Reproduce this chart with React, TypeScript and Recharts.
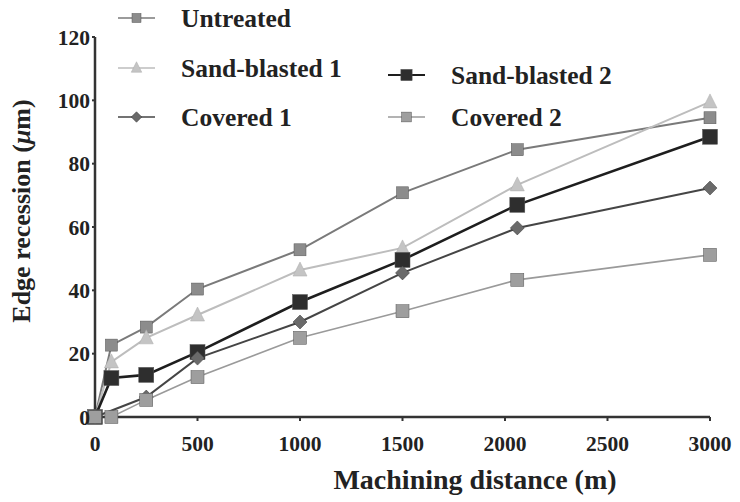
import React from "react";
import { LineChart, Line, XAxis, YAxis, Label } from "recharts";

const distances = [0, 80, 250, 500, 1000, 1500, 2060, 3000];
const untreated = [0, 22.7, 28.4, 40.4, 52.8, 70.8, 84.4, 94.5];
const sandBlasted1 = [0, 17.4, 25, 32.2, 46.4, 53.4, 73.3, 99.5];
const sandBlasted2 = [0, 12.3, 13.3, 20.5, 36.3, 49.6, 67, 88.5];
const covered1 = [0, null, 6.3, 18.6, 30, 45.5, 59.7, 72.3];
const covered2 = [0, 0, 5.4, 12.6, 25, 33.4, 43.3, 51.2];

const xTicks = [0, 500, 1000, 1500, 2000, 2500, 3000];
const yTicks = [0, 20, 40, 60, 80, 100, 120];

const data = distances.map((x, i) => ({
  x,
  untreated: untreated[i],
  sb1: sandBlasted1[i],
  sb2: sandBlasted2[i],
  c1: covered1[i],
  c2: covered2[i],
}));

const FONT = "'Liberation Serif', 'Times New Roman', serif";

const series = [
  { key: "untreated", name: "Untreated", stroke: "#7a7a7a", width: 2, fill: "#8c8c8c", shape: "square", size: 12 },
  { key: "sb1", name: "Sand-blasted 1", stroke: "#bdbdbd", width: 2, fill: "#c4c4c4", shape: "triangle", size: 14 },
  { key: "sb2", name: "Sand-blasted 2", stroke: "#1e1e1e", width: 2.6, fill: "#2e2e2e", shape: "square", size: 15 },
  { key: "c1", name: "Covered 1", stroke: "#454545", width: 2, fill: "#6a6a6a", shape: "diamond", size: 14 },
  { key: "c2", name: "Covered 2", stroke: "#9a9a9a", width: 1.6, fill: "#9e9e9e", shape: "square", size: 13 },
];

function Marker({ cx, cy, shape, size, fill }: any) {
  if (cx == null || cy == null || isNaN(cx) || isNaN(cy)) return null;
  const h = size / 2;
  if (shape === "square") {
    return <rect x={cx - h} y={cy - h} width={size} height={size} fill={fill} stroke="#555" strokeWidth={0.5} />;
  }
  if (shape === "triangle") {
    return (
      <polygon
        points={`${cx},${cy - h - 1} ${cx + h},${cy + h - 1} ${cx - h},${cy + h - 1}`}
        fill={fill}
        stroke="#aaa"
        strokeWidth={0.5}
      />
    );
  }
  return (
    <polygon
      points={`${cx},${cy - h} ${cx + h},${cy} ${cx},${cy + h} ${cx - h},${cy}`}
      fill={fill}
      stroke="#333"
      strokeWidth={0.5}
    />
  );
}

const legendPos: Record<string, { x: number; y: number }> = {
  untreated: { x: 118, y: 18 },
  sb1: { x: 118, y: 68 },
  c1: { x: 118, y: 117 },
  sb2: { x: 388, y: 75 },
  c2: { x: 388, y: 117 },
};

function LegendOverlay() {
  return (
    <svg width={740} height={140} style={{ position: "absolute", left: 0, top: 0, pointerEvents: "none" }}>
      {series.map((s) => {
        const p = legendPos[s.key];
        return (
          <g key={s.key}>
            <line x1={p.x} x2={p.x + 37} y1={p.y} y2={p.y} stroke={s.stroke} strokeWidth={s.width * 0.8} />
            <Marker cx={p.x + 18.5} cy={p.y} shape={s.shape} size={s.size * 0.75} fill={s.fill} />
            <text
              x={p.x + 63}
              y={p.y + 9}
              fontFamily={FONT}
              fontWeight="bold"
              fontSize={25.5}
              fill="#222"
            >
              {s.name}
            </text>
          </g>
        );
      })}
    </svg>
  );
}

export default function App() {
  return (
    <div style={{ position: "absolute", left: 0, top: 0, width: 740, height: 502, background: "#fff" }}>
      <LineChart width={740} height={502} data={data} margin={{ top: 37, right: 30, bottom: 40, left: 35 }}>
        <XAxis
          dataKey="x"
          type="number"
          domain={[0, 3000]}
          ticks={xTicks}
          height={45}
          axisLine={{ stroke: "#333", strokeWidth: 2.5 }}
          tickLine={{ stroke: "#333", strokeWidth: 2 }}
          tickSize={4}
          tickMargin={15}
          tick={{ fontFamily: FONT, fontWeight: "bold", fontSize: 21.5, fill: "#222" }}
        >
          <Label
            content={() => (
              <text
                x={475}
                y={489}
                textAnchor="middle"
                fontFamily={FONT}
                fontWeight="bold"
                fontSize={28}
                fill="#222"
              >
                Machining distance (m)
              </text>
            )}
          />
        </XAxis>
        <YAxis
          type="number"
          domain={[0, 120]}
          ticks={yTicks}
          width={60}
          axisLine={{ stroke: "#333", strokeWidth: 2.5 }}
          tickLine={{ stroke: "#333", strokeWidth: 2 }}
          tickSize={3}
          tickMargin={2}
          tick={{ fontFamily: FONT, fontWeight: "bold", fontSize: 21.5, fill: "#222" }}
          label={() => (
            <text
              x={0}
              y={0}
              transform="translate(30, 211) rotate(-90)"
              textAnchor="middle"
              fontFamily={FONT}
              fontWeight="bold"
              fontSize={26}
              fill="#222"
            >
              Edge recession (<tspan fontStyle="italic">μ</tspan>m)
            </text>
          )}
        />
        {series.map((s) => (
          <Line
            key={s.key}
            dataKey={s.key}
            name={s.name}
            type="linear"
            stroke={s.stroke}
            strokeWidth={s.width}
            connectNulls
            isAnimationActive={false}
            dot={(props: any) => (
              <Marker key={`${s.key}-${props.index}`} cx={props.cx} cy={props.cy} shape={s.shape} size={s.size} fill={s.fill} />
            )}
            activeDot={false}
          />
        ))}
      </LineChart>
      <LegendOverlay />
    </div>
  );
}
